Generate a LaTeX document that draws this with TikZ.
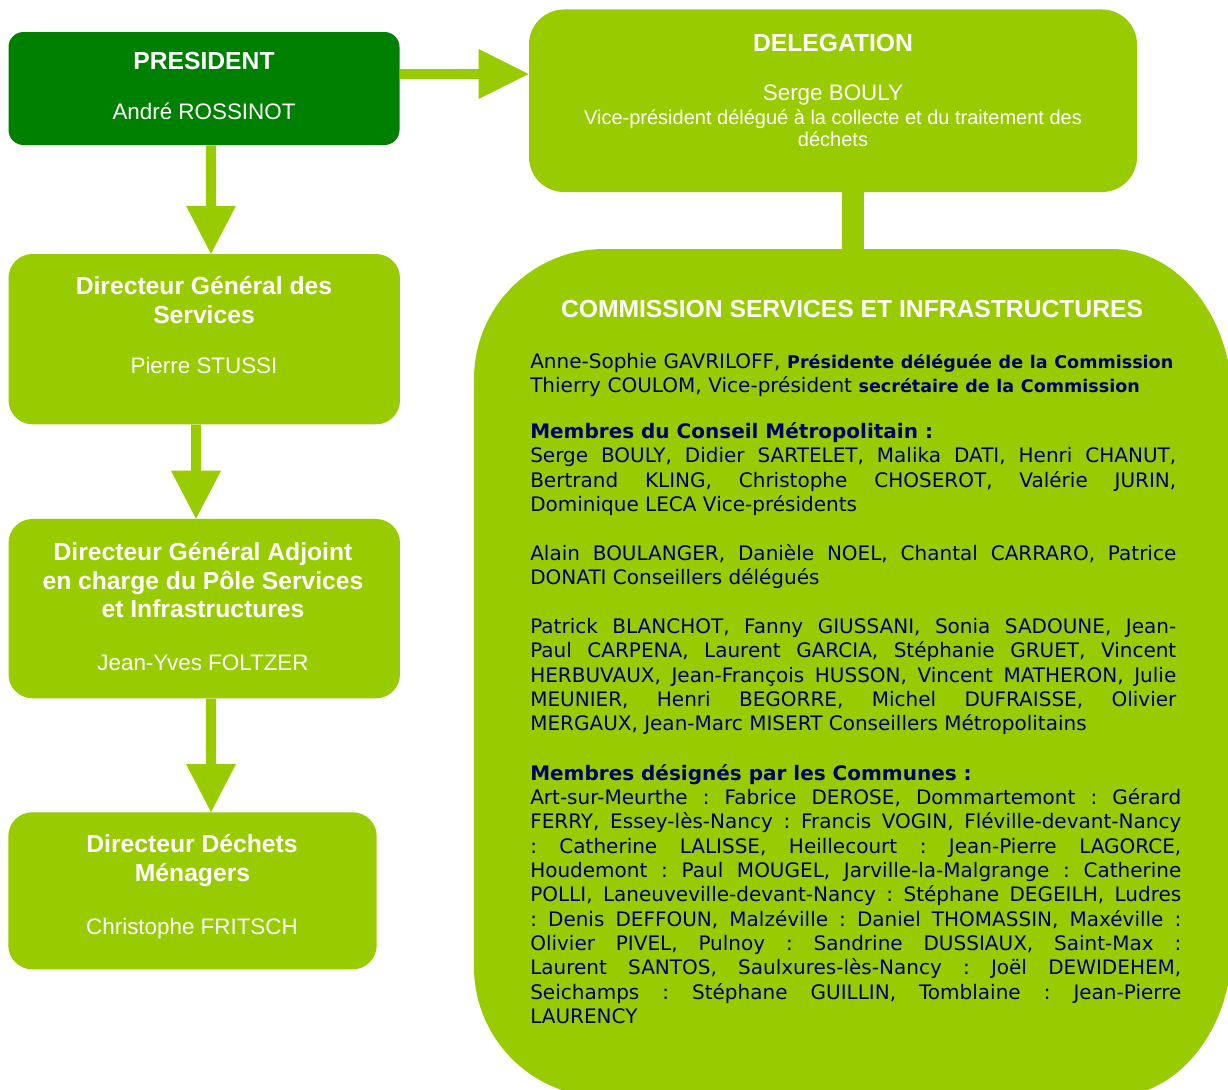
\documentclass[tikz,border=0pt]{standalone}
\usepackage{fontspec}
\setmainfont{Liberation Sans}
\newfontfamily\verdfont{DejaVu Sans}
\usetikzlibrary{calc}
\definecolor{dkgreen}{HTML}{008000}
\definecolor{ltgreen}{HTML}{99CC00}
\definecolor{navytxt}{HTML}{000066}
\newcommand\looseparams{\frenchspacing\hbadness=10000 \tolerance=10000 \hyphenpenalty=10000 \relax}
\newcommand\vblockarrow[2]{%
  \fill[ltgreen] let \p1=(#1), \p2=(#2) in
    (\x1-3.75pt,\y1) -- (\x1-3.75pt,\y2+36pt) -- (\x1-18.75pt,\y2+36pt) --
    (\x1,\y2) -- (\x1+18.75pt,\y2+36pt) -- (\x1+3.75pt,\y2+36pt) --
    (\x1+3.75pt,\y1) -- cycle;}
\newcommand\hblockarrow[2]{%
  \fill[ltgreen] let \p1=(#1), \p2=(#2) in
    (\x1,\y1+3.75pt) -- (\x2-37.5pt,\y1+3.75pt) -- (\x2-37.5pt,\y1+18.75pt) --
    (\x2,\y1) -- (\x2-37.5pt,\y1-18.75pt) -- (\x2-37.5pt,\y1-3.75pt) --
    (\x1,\y1-3.75pt) -- cycle;}
\newcommand\smallbold[1]{{\bfseries\fontsize{13.15pt}{18.5pt}\selectfont #1}}
\begin{document}
\begin{tikzpicture}[x=0.75pt,y=-0.75pt,
  box/.style={fill=ltgreen, draw=none, inner sep=0, rounded corners=18pt},
  ttl/.style={text=white, font=\fontsize{18.5pt}{22pt}\selectfont\bfseries, anchor=base, inner sep=0},
  nm/.style={text=white, font=\fontsize{16.8pt}{20pt}\selectfont, anchor=base, inner sep=0},
  sub/.style={text=white, font=\fontsize{15pt}{18pt}\selectfont, anchor=base, inner sep=0},
  body/.style={text=navytxt, font=\verdfont\fontsize{15pt}{18.26pt}\selectfont,
     execute at begin node=\looseparams,
     anchor=base west, inner sep=0, align=justify, text width=484.5pt}
]
\useasboundingbox (0,0) rectangle (1228,1089);
\clip (0,0) rectangle (1228,1089);
\fill[white] (0,0) rectangle (1228,1089);

% boxes
\node[box, fill=dkgreen, rounded corners=11.25pt, minimum width=293.25pt, minimum height=84.75pt] (pres) at (204,88.5) {};
\node[box, rounded corners=26.25pt, minimum width=456pt, minimum height=136.9pt] (deleg) at (833,100.75) {};
\node[box, minimum width=293.6pt, minimum height=127.7pt] (dgs) at (204.25,339.15) {};
\node[box, minimum width=293.6pt, minimum height=134.5pt] (dga) at (204.25,608.65) {};
\node[box, minimum width=276.3pt, minimum height=117.75pt] (ddm) at (192.5,890.8) {};
\node[inner sep=0, minimum width=568.5pt, minimum height=636pt] (comm) at (853,673) {};
\fill[ltgreen] (474,379) arc[start angle=180, end angle=270, radius=130]
  -- (1111,249) arc[start angle=270, end angle=360, x radius=121, y radius=151]
  -- (1232,946) arc[start angle=0, end angle=90, x radius=121, y radius=151]
  -- (604,1097) arc[start angle=90, end angle=180, radius=130] -- cycle;

% connectors
\coordinate (a1s) at ($(pres.south)+(7,0)$);
\coordinate (a1e) at (a1s |- dgs.north);
\vblockarrow{a1s}{a1e}
\coordinate (a2s) at ($(dgs.south)+(-8.25,0)$);
\coordinate (a2e) at (a2s |- dga.north);
\vblockarrow{a2s}{a2e}
\coordinate (a3s) at ($(dga.south)+(6.75,0)$);
\coordinate (a3e) at (a3s |- ddm.north);
\vblockarrow{a3s}{a3e}
\coordinate (a4s) at ($(pres.east)+(0,-14.5)$);
\coordinate (a4e) at (a4s -| deleg.west);
\hblockarrow{a4s}{a4e}
\draw[ltgreen, line width=16.9pt] (deleg.south -| comm.north) -- (comm.north);

% texts
\node[ttl] (presT) at (204,69) {PRESIDENT};
\node[nm] (presN) at (204,119.5) {André ROSSINOT};
\node[ttl] (delT) at (833,51) {DELEGATION};
\node[nm] (delN) at (833,100) {Serge BOULY};
\node[sub] (delS1) at (833,124) {Vice-président délégué à la collecte et du traitement des};
\node[sub] (delS2) at (833,146.5) {déchets};
\node[ttl] (dgsT1) at (204,294) {Directeur Général des};
\node[ttl] (dgsT2) at (204,323) {Services};
\node[nm] (dgsN) at (204,373) {Pierre STUSSI};
\node[ttl] (dgaT1) at (203,560) {Directeur Général Adjoint};
\node[ttl] (dgaT2) at (203,589) {en charge du Pôle Services};
\node[ttl] (dgaT3) at (203,617) {et Infrastructures};
\node[nm] (dgaN) at (203,670) {Jean-Yves FOLTZER};
\node[ttl] (ddmT1) at (192,852) {Directeur Déchets};
\node[ttl] (ddmT2) at (192.5,881) {Ménagers};
\node[nm] (ddmN) at (192,934) {Christophe FRITSCH};
\node[ttl] (comT) at (852,317) {COMMISSION SERVICES ET INFRASTRUCTURES};

\node[body, align=left, text width=500pt] (p1) at (530,368) {Anne-Sophie GAVRILOFF, \smallbold{Présidente déléguée de la Commission}\\Thierry COULOM, Vice-président \smallbold{secrétaire de la Commission}};
\node[body] (p2) at (530,438.3) {{\bfseries Membres du Conseil Métropolitain :}\\Serge BOULY, Didier SARTELET, Malika DATI, Henri CHANUT,\linebreak Bertrand KLING, Christophe CHOSEROT, Valérie JURIN,\linebreak Dominique LECA Vice-présidents};
\node[body] (p3) at (530,560) {Alain BOULANGER, Danièle NOEL, Chantal CARRARO, Patrice\linebreak DONATI Conseillers délégués};
\node[body] (p4) at (530,633.3) {Patrick BLANCHOT, Fanny GIUSSANI, Sonia SADOUNE, Jean-\linebreak Paul CARPENA, Laurent GARCIA, Stéphanie GRUET, Vincent\linebreak HERBUVAUX, Jean-François HUSSON, Vincent MATHERON, Julie\linebreak MEUNIER, Henri BEGORRE, Michel DUFRAISSE, Olivier\linebreak MERGAUX, Jean-Marc MISERT Conseillers Métropolitains};
\node[body, text width=488.25pt] (p5) at (530,780) {{\bfseries Membres désignés par les Communes :}\\Art-sur-Meurthe : Fabrice DEROSE, Dommartemont : Gérard\linebreak FERRY, Essey-lès-Nancy : Francis VOGIN, Fléville-devant-Nancy\linebreak : Catherine LALISSE, Heillecourt : Jean-Pierre LAGORCE,\linebreak Houdemont : Paul MOUGEL, Jarville-la-Malgrange : Catherine\linebreak POLLI, Laneuveville-devant-Nancy : Stéphane DEGEILH, Ludres\linebreak : Denis DEFFOUN, Malzéville : Daniel THOMASSIN, Maxéville :\linebreak Olivier PIVEL, Pulnoy : Sandrine DUSSIAUX, Saint-Max :\linebreak Laurent SANTOS, Saulxures-lès-Nancy : Joël DEWIDEHEM,\linebreak Seichamps : Stéphane GUILLIN, Tomblaine : Jean-Pierre\linebreak LAURENCY};
\end{tikzpicture}
\end{document}
